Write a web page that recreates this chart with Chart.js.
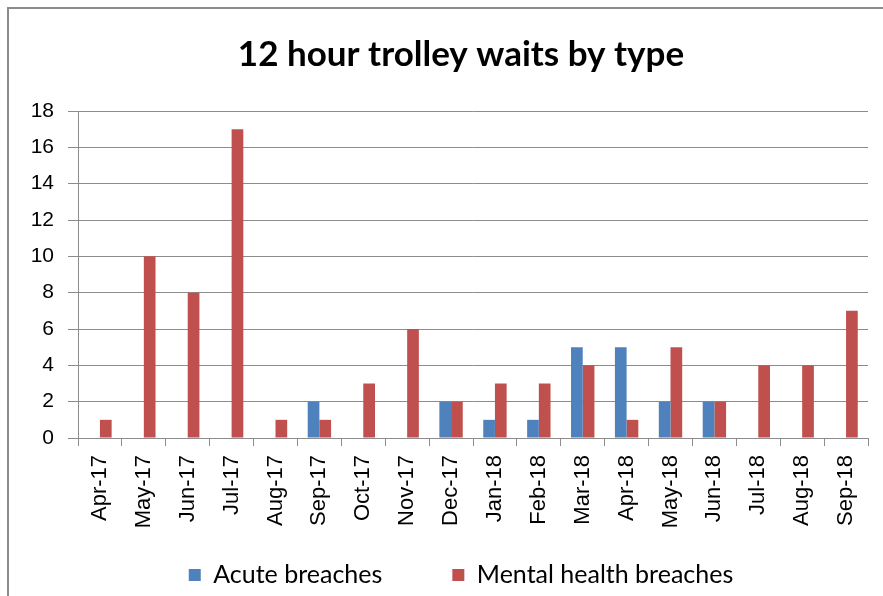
<!DOCTYPE html>
<html>
<head>
<meta charset="utf-8">
<script src="https://cdn.jsdelivr.net/npm/chart.js@4.4.1/dist/chart.umd.min.js"></script>
<style>
  html, body { margin: 0; padding: 0; background: #fff; }
  #wrap { position: relative; width: 883px; height: 596px; overflow: hidden; background: #fff; }
  #frame { position: absolute; left: 7px; top: 7px; width: 900px; height: 600px; border-left: 2px solid #8c8c8c; border-top: 2px solid #8c8c8c; box-sizing: border-box; }
  canvas { position: absolute; left: 0; top: 0; }
</style>
</head>
<body>
<div id="wrap">
  <div id="frame"></div>
  <canvas id="c" width="883" height="596"></canvas>
</div>
<script>
const categories = ["Apr-17","May-17","Jun-17","Jul-17","Aug-17","Sep-17","Oct-17","Nov-17","Dec-17","Jan-18","Feb-18","Mar-18","Apr-18","May-18","Jun-18","Jul-18","Aug-18","Sep-18"];
const acuteBreaches = [0,0,0,0,0,2,0,0,2,1,1,5,5,2,2,0,0,0];
const mentalHealthBreaches = [1,10,8,17,1,1,3,6,2,3,3,4,1,5,2,4,4,7];
const yTicks = { min: 0, max: 18, step: 2 };
const titleText = "12 hour trolley waits by type";

const gridColor = "#8c8c8c";
const noLabelClip = () => undefined;

new Chart(document.getElementById("c"), {
  type: "bar",
  data: {
    labels: categories,
    datasets: [
      { label: "Acute breaches", data: acuteBreaches, backgroundColor: "#4F81BD", borderWidth: 0 },
      { label: "Mental health breaches", data: mentalHealthBreaches, backgroundColor: "#C0504D", borderWidth: 0 }
    ]
  },
  options: {
    responsive: false,
    animation: false,
    events: [],
    layout: { padding: { left: 54, right: 15, top: 0, bottom: 0 } },
    datasets: { bar: { categoryPercentage: 0.533, barPercentage: 1.0 } },
    scales: {
      x: {
        grid: { display: true, drawOnChartArea: false, drawTicks: true, tickLength: 8, color: gridColor, offset: true },
        border: { display: true, color: gridColor, width: 1 },
        ticks: { autoSkip: false, minRotation: 90, maxRotation: 90, padding: 9, color: "#000",
                 font: { family: "'Liberation Sans', Arial, sans-serif", size: 22 } },
        afterFit: (s) => { s.height = 54.5; s._computeLabelArea = noLabelClip; }
      },
      y: {
        min: yTicks.min, max: yTicks.max,
        grid: { color: gridColor, lineWidth: 1, tickLength: 10 },
        border: { display: true, color: gridColor, width: 1 },
        ticks: { stepSize: yTicks.step, padding: 14, color: "#000",
                 font: { family: "'Liberation Sans', Arial, sans-serif", size: 21 } },
        afterFit: (s) => { s.width = 24; s._computeLabelArea = noLabelClip; }
      }
    },
    plugins: {
      title: {
        display: true, text: titleText, color: "#000",
        font: { family: "Lato, sans-serif", size: 35, weight: "bold", lineHeight: 1.2 },
        padding: { top: 34, bottom: 35 }
      },
      legend: {
        position: "bottom",
        maxHeight: 103.5,
        labels: {
          boxWidth: 12, boxHeight: 12, padding: 70, color: "#000",
          font: { family: "Lato, sans-serif", size: 25 }
        }
      },
      tooltip: { enabled: false }
    }
  }
});
</script>
</body>
</html>
